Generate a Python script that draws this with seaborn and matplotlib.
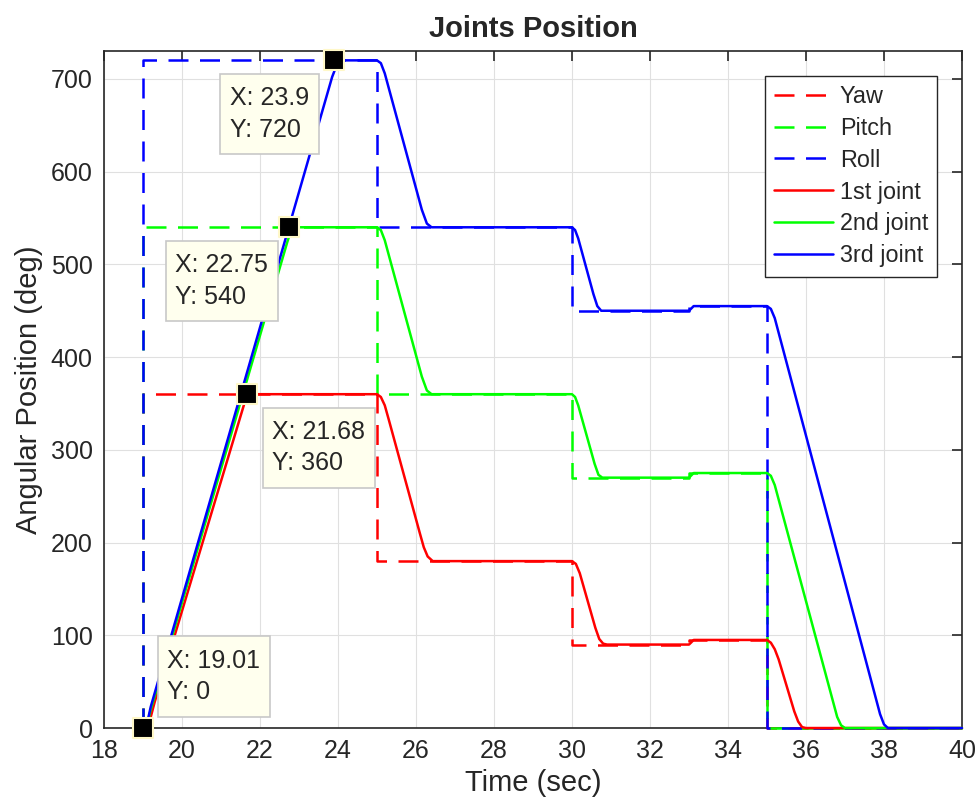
import matplotlib
matplotlib.use("Agg")
import matplotlib.pyplot as plt
from matplotlib.path import Path
import seaborn as sns

# Set-point profiles (step commands) for the three rotations
ref_time = [19.0, 19.0, 25.0, 30.0, 33.0, 35.0, 40.0]
yaw_ref = [0, 360, 180, 90, 95, 0, 0]
pitch_ref = [0, 540, 360, 270, 275, 0, 0]
roll_ref = [0, 720, 540, 450, 455, 0, 0]

# Measured joint trajectories
j1_time = [19.00, 19.10, 19.20, 19.30, 21.50, 21.60, 21.70, 21.80, 25.00, 25.10, 25.20, 25.30,
           26.10, 26.20, 26.30, 26.43, 30.00, 30.10, 30.20, 30.60, 30.70, 30.80, 30.90,
           33.00, 33.05, 33.12, 35.00, 35.10, 35.20, 35.30, 35.50, 35.60, 35.70, 35.80,
           35.90, 36.00, 40.00]
j1_pos = [0, 2, 12, 28, 336, 350, 358, 360, 360, 357, 348, 333,
          210, 195, 185, 180, 180, 177, 167, 108, 96, 91, 90,
          90, 92, 95, 95, 92, 85, 74, 46, 32, 18, 7,
          1, 0, 0]

j2_time = [19.00, 19.10, 19.20, 22.70, 22.80, 22.90, 25.00, 25.10, 25.20, 26.15, 26.28, 26.40,
           30.00, 30.08, 30.16, 30.58, 30.68, 30.78, 33.00, 33.05, 33.12, 35.00, 35.10, 35.20,
           36.80, 36.90, 37.00, 40.00]
j2_pos = [0, 3, 20, 524, 537, 540, 540, 537, 526, 379, 364, 360,
          360, 357, 348, 285, 273, 270, 270, 272, 275, 275, 272, 262,
          12, 3, 0, 0]

j3_time = [19.00, 19.10, 19.20, 23.85, 23.95, 24.05, 24.15, 25.00, 25.10, 25.20, 26.15, 26.28,
           26.40, 30.00, 30.08, 30.16, 30.55, 30.65, 30.75, 33.00, 33.05, 33.12, 35.00, 35.10,
           35.20, 37.90, 38.00, 38.10, 40.00]
j3_pos = [0, 4, 23, 702, 713, 719, 720, 720, 717, 706, 559, 544,
          540, 540, 537, 528, 468, 455, 450, 450, 452, 455, 455, 452,
          442, 15, 4, 0, 0]

# Data tips
tip_x = [19.01, 21.68, 22.75, 23.9]
tip_y = [0, 360, 540, 720]

x_ticks = list(range(18, 41, 2))
y_ticks = list(range(0, 701, 100))

sns.set_style("white")
plt.rcParams["font.family"] = ["Liberation Sans", "DejaVu Sans"]


def tip_box(x0, y0, width, height, mutation_size):
    """Rectangular box with more vertical than horizontal padding."""
    px = 0.38 * mutation_size
    py = 0.50 * mutation_size
    x0, y0 = x0 - px, y0 - py
    x1, y1 = x0 + width + 2 * px, y0 + height + 2 * py
    return Path([(x0, y0), (x1, y0), (x1, y1), (x0, y1), (x0, y0)], closed=True)


fig = plt.figure(figsize=(9.78, 8.11), dpi=100)
ax = fig.add_axes([0.1063, 0.1023, 0.8773, 0.8347])

dash = (0, (8, 4.6))
lw = 1.8
series = [
    (ref_time, yaw_ref, "#FF0000", dash, "Yaw", "steps-post"),
    (ref_time, pitch_ref, "#00FF00", dash, "Pitch", "steps-post"),
    (ref_time, roll_ref, "#0000FF", dash, "Roll", "steps-post"),
    (j1_time, j1_pos, "#FF0000", "-", "1st joint", "default"),
    (j2_time, j2_pos, "#00FF00", "-", "2nd joint", "default"),
    (j3_time, j3_pos, "#0000FF", "-", "3rd joint", "default"),
]
for t, v, c, ls, lab, ds in series:
    sns.lineplot(x=t, y=v, ax=ax, color=c, linestyle=ls, linewidth=lw,
                 estimator=None, sort=False, label=lab, drawstyle=ds,
                 legend=False, clip_on=False, zorder=3)

handles = ax.get_lines()[:len(series)]
labels = [s[4] for s in series]

# Data tip markers and boxes
sns.scatterplot(x=tip_x, y=tip_y, ax=ax, marker="s", s=210, color="black",
                edgecolor="#FFF8C8", linewidth=1.5, zorder=6, clip_on=False,
                legend=False)
tip_place = [
    (24, 24, "left", "bottom"),
    (25, -26, "left", "top"),
    (-21, -26, "right", "top"),
    (-25, -26, "right", "top"),
]
for x, y, (dx, dy, ha, va) in zip(tip_x, tip_y, tip_place):
    ax.annotate(f"X: {x:g}\nY: {y:g}", xy=(x, y), xytext=(dx, dy),
                textcoords="offset pixels", ha=ha, va=va, fontsize=18,
                multialignment="left", linespacing=1.38, zorder=7,
                annotation_clip=False,
                bbox=dict(boxstyle=tip_box, fc="#FFFFEE", ec="#C8C8C8", lw=1.2))

ax.set_xlim(18, 40)
ax.set_ylim(0, 730)
ax.set_xticks(x_ticks)
ax.set_yticks(y_ticks)
ax.grid(True, color="#E0E0E0", linewidth=0.8)
ax.set_axisbelow(True)
for sp in ax.spines.values():
    sp.set_color("#262626")
    sp.set_linewidth(1.2)
    sp.set_visible(True)
ax.tick_params(direction="in", length=7, width=1.2, color="#262626",
               top=True, right=True, labelsize=18, labelcolor="#262626", pad=8)

ax.set_title("Joints Position", fontsize=21, fontweight="bold", pad=10)
ax.set_xlabel("Time (sec)", fontsize=21, color="#262626", labelpad=4)
ax.set_ylabel("Angular Position (deg)", fontsize=21, color="#262626", labelpad=6)

leg = ax.legend(handles, labels, loc="upper right", fontsize=16.8,
                frameon=True, fancybox=False, framealpha=1,
                edgecolor="#262626", borderaxespad=1.05, borderpad=0.4,
                handlelength=2.5, handletextpad=0.3, labelspacing=0.38)
leg.get_frame().set_linewidth(1.0)
leg.set_zorder(8)

fig.savefig("out.png", dpi=100)
